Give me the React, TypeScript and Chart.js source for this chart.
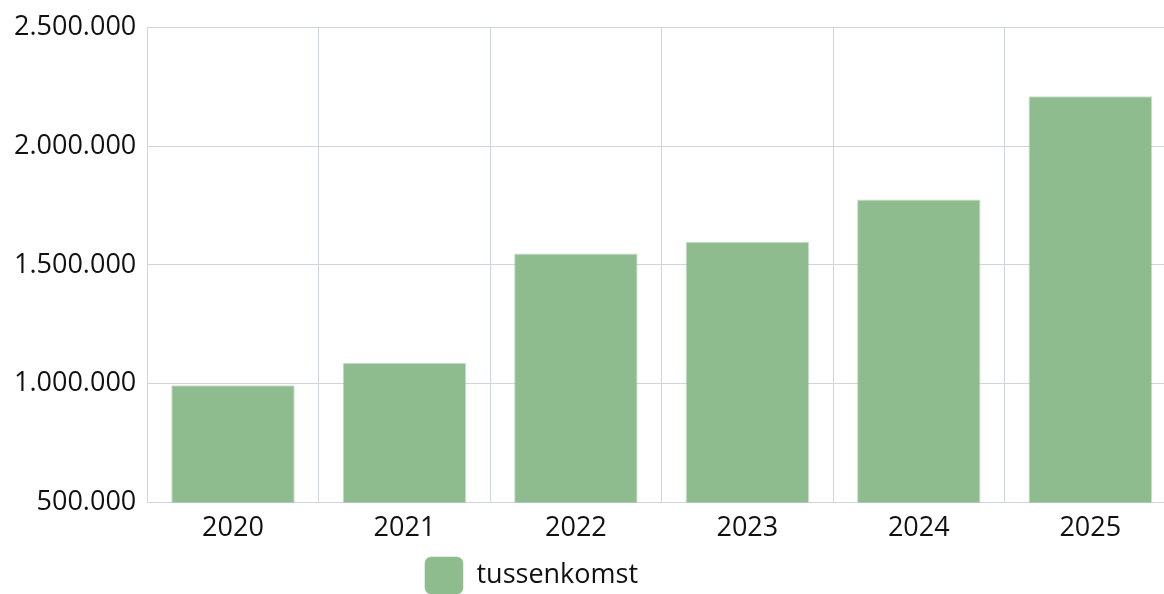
import React, { useEffect, useRef } from "react";
import { Chart, registerables } from "chart.js";

Chart.register(...registerables);

const categories = ["2020", "2021", "2022", "2023", "2024", "2025"];
const seriesLabel = "tussenkomst";
const seriesValues = [994000, 1088000, 1548000, 1597000, 1775000, 2209000];
const yMin = 500000;
const yMax = 2500000;
const yStep = 500000;

const BAR_COLOR = "rgb(143,188,143)";
const BAR_BORDER = "rgba(143,188,143,0.5)";
const GRID_COLOR = "#cdd5df";
const TEXT_COLOR = "#111111";
const FONT_FAMILY = "'Open Sans', sans-serif";
const LEGEND_SHIFT = 62;

function formatThousands(v: number): string {
  return String(Math.round(v)).replace(/\B(?=(\d{3})+(?!\d))/g, ".");
}

const legendShiftPlugin = {
  id: "legendShift",
  afterLayout(chart: any) {
    if (chart.legend) {
      chart.legend.right = chart.legend.right - 2 * LEGEND_SHIFT;
    }
  },
};

export default function App() {
  const canvasRef = useRef<HTMLCanvasElement | null>(null);

  useEffect(() => {
    if (!canvasRef.current) return;
    const chart = new Chart(canvasRef.current, {
      type: "bar",
      data: {
        labels: categories,
        datasets: [
          {
            label: seriesLabel,
            data: seriesValues,
            backgroundColor: BAR_COLOR,
            borderColor: BAR_BORDER,
            borderWidth: 1,
          },
        ],
      },
      plugins: [legendShiftPlugin],
      options: {
        animation: false,
        responsive: false,
        maintainAspectRatio: false,
        devicePixelRatio: 1,
        layout: { padding: { left: 3, top: 3, right: 0, bottom: 0 } },
        plugins: {
          legend: {
            display: true,
            position: "bottom",
            labels: {
              color: TEXT_COLOR,
              font: { family: FONT_FAMILY, size: 27 },
              boxWidth: 38,
              boxHeight: 37,
              useBorderRadius: true,
              borderRadius: 6,
              padding: 10,
            },
          },
          tooltip: { enabled: false },
        },
        scales: {
          x: {
            grid: { color: GRID_COLOR, tickColor: "transparent", offset: true },
            border: { color: GRID_COLOR },
            ticks: {
              color: TEXT_COLOR,
              font: { family: FONT_FAMILY, size: 27 },
              maxRotation: 0,
              padding: 2,
            },
          },
          y: {
            min: yMin,
            max: yMax,
            grid: { color: GRID_COLOR, tickColor: "transparent" },
            border: { color: GRID_COLOR },
            ticks: {
              stepSize: yStep,
              color: TEXT_COLOR,
              font: { family: FONT_FAMILY, size: 27 },
              callback: (v: any) => formatThousands(Number(v)),
            },
          },
        },
      },
    });
    return () => chart.destroy();
  }, []);

  return (
    <div
      style={{
        position: "fixed",
        left: "8px",
        top: "8px",
        width: "1156px",
        height: "586px",
        overflow: "hidden",
      }}
    >
      <canvas
        ref={canvasRef}
        width={1168}
        height={596}
        style={{ width: "1168px", height: "596px", display: "block" }}
      />
    </div>
  );
}
